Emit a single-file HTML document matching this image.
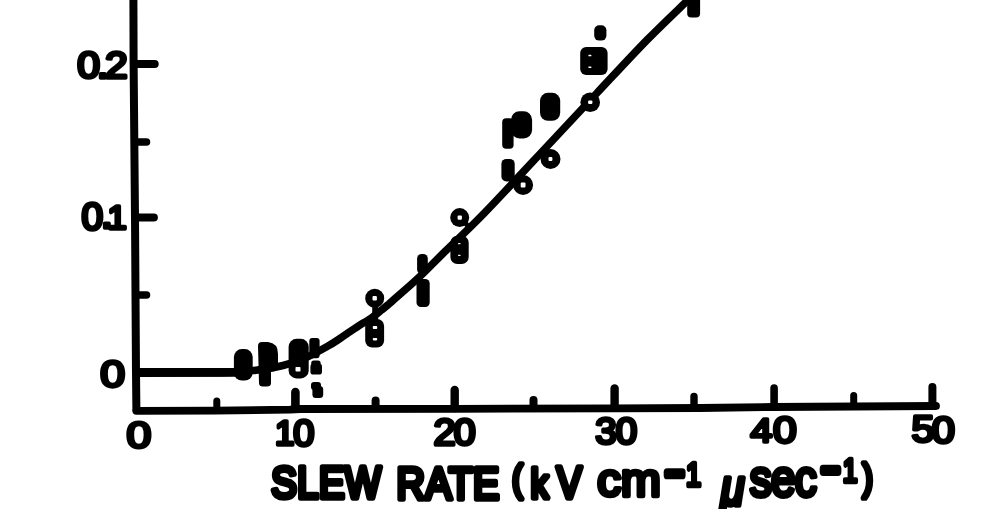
<!DOCTYPE html>
<html lang="en">
<head>
<meta charset="utf-8">
<title>Slew rate chart</title>
<style>
  html, body { margin: 0; padding: 0; background: #fff; }
  body { width: 1001px; height: 509px; overflow: hidden; }
  svg { display: block; }
  .ln { fill: none; stroke: #000; stroke-linecap: round; stroke-linejoin: round; }
  .bl { fill: #000; stroke: #000; stroke-linejoin: round; stroke-linecap: round; }
  .ho { fill: #fff; stroke: none; }
  text { font-family: "Liberation Sans", sans-serif; font-weight: normal; fill: #000; stroke: #000; stroke-linejoin: round; stroke-linecap: round; vector-effect: non-scaling-stroke; }
  tspan { vector-effect: non-scaling-stroke; }
</style>
</head>
<body>
<svg width="1001" height="509" viewBox="0 0 1001 509">
  <rect x="0" y="0" width="1001" height="509" fill="#fff"/>
  <!-- axes -->
  <g id="axes">
    <path class="ln" stroke-width="8" stroke-linecap="butt" d="M133.4 -5 L133.6 62 L135 217 L136 372 L136.4 410"/>
    <path class="ln" stroke-width="7.8" d="M136.4 410.8 L215 410.6 L290 409.7 L300 409 L455 408.8 L614 408.4 L700 408 L774 407 L936 406"/>
    <!-- y ticks -->
    <path class="ln" stroke-width="8" d="M136 64 L154.7 64"/>
    <path class="ln" stroke-width="7.5" d="M136 142 L146.5 142"/>
    <path class="ln" stroke-width="8.2" d="M136 217.5 L153.8 217.5"/>
    <path class="ln" stroke-width="7.5" d="M136 295 L146.5 295"/>
    <!-- x ticks -->
    <path class="ln" stroke-width="7" d="M216.8 401 V408"/>
    <path class="ln" stroke-width="8.6" d="M295.4 392 V408"/>
    <path class="ln" stroke-width="8" d="M375.6 400.5 V408"/>
    <path class="ln" stroke-width="8.4" d="M454.7 390 V408"/>
    <path class="ln" stroke-width="8" d="M533.5 400 V408"/>
    <path class="ln" stroke-width="8.4" d="M614.6 388.5 V407"/>
    <path class="ln" stroke-width="7.4" d="M694 396.5 V407"/>
    <path class="ln" stroke-width="7.6" d="M774.1 388 V406"/>
    <path class="ln" stroke-width="7" d="M853.7 395.5 V406"/>
    <path class="ln" stroke-width="8" d="M932.4 387 V406"/>
  </g>
  <!-- fitted curve -->
  <path class="ln" stroke-width="8.8" stroke-linecap="butt" d="M137 372.5 L236 372.4"/>
  <path class="ln" stroke-width="7.6" d="M137.5 372.6 C144.6 372.6 164.9 372.6 180 372.6 C195.1 372.6 215.3 372.9 228 372.5 C240.7 372.1 246.8 371.4 256 370.2 C265.2 369.0 274.8 367.5 283 365.5 C291.2 363.5 297.5 361.2 305 358 C312.5 354.8 322.2 349.2 328 346 C333.8 342.8 336.3 340.9 340 338.5 C343.7 336.1 347.2 333.6 350 331.7 C352.8 329.8 354.7 328.5 357 327 C359.3 325.5 362.0 323.8 364 322.6 C366.0 321.4 367.5 320.6 369 319.6 C370.5 318.6 371.0 318.3 373 316.8 C375.0 315.3 378.4 312.5 381 310.4 C383.6 308.3 386.5 306.1 388.5 304.4 C390.5 302.7 388.1 304.6 393 300.3 C397.9 296.0 409.3 286.4 418 278.3 C426.7 270.2 433.8 262.5 445 251.5 C456.2 240.5 467.0 231.0 485 212.4 C503.0 193.8 534.3 159.9 553 140 C571.7 120.1 581.3 109.7 597 93 C612.7 76.3 631.8 55.5 647 40 C662.2 24.5 679.2 8.6 688 0 C696.8 -8.6 698.0 -9.8 700 -11.7"/>
  <!-- data markers -->
  <g id="markers">
    <rect class="bl" x="233.9" y="349.1" width="18.8" height="31.4" rx="8" ry="8" stroke-width="0"/>
    <path class="bl" stroke-width="0" d="M258 346 Q258 342 262 342 L268 342 Q278 343 278 354 L278 366 Q278 371.5 272 371.5 L271 371.5 L271 383 Q271 386.6 267 386.6 L263 386.6 Q259 386.6 259 383 Z"/>
    <rect class="bl" x="288.6" y="338.8" width="20.1" height="39.6" rx="8" ry="8" stroke-width="0"/>
    <rect class="ho" x="295.5" y="367.0" width="5.0" height="4.5" rx="0.8"/>
    <rect class="bl" x="309.3" y="338.0" width="10.3" height="20.3" rx="3" ry="3" stroke-width="0"/>
    <rect class="bl" x="311.2" y="360.4" width="9.4" height="5.6" rx="2.5" ry="2.5" stroke-width="0"/>
    <rect class="bl" x="310.4" y="363.5" width="11.6" height="11.1" rx="3.2" ry="3.2" stroke-width="0"/>
    <rect class="bl" x="311.0" y="382.0" width="10.0" height="8.0" rx="3" ry="3" stroke-width="0"/>
    <rect class="bl" x="312.4" y="386.0" width="10.8" height="12.0" rx="3.5" ry="3.5" stroke-width="0"/>
    <circle class="bl" cx="374.7" cy="298.3" r="9.5" stroke-width="0"/>
    <rect class="ho" x="372.5" y="296.1" width="4.4" height="4.4" rx="1"/>
    <rect class="bl" x="372.2" y="305.0" width="6.0" height="16.0" rx="2" ry="2" stroke-width="0"/>
    <rect class="bl" x="365.2" y="319.0" width="18.9" height="28.5" rx="7" ry="7" stroke-width="0"/>
    <rect class="ho" x="372.8" y="325.9" width="4.4" height="3.1" rx="0.8"/>
    <rect class="ho" x="372.8" y="337.9" width="4.4" height="2.5" rx="0.8"/>
    <rect class="bl" x="417.1" y="254.0" width="10.7" height="20.0" rx="4.5" ry="4.5" stroke-width="0"/>
    <rect class="bl" x="416.5" y="279.0" width="13.2" height="28.1" rx="4.5" ry="4.5" stroke-width="0"/>
    <circle class="bl" cx="459.7" cy="217.6" r="9.5" stroke-width="0"/>
    <rect class="ho" x="457.6" y="215.4" width="4.3" height="4.3" rx="1"/>
    <path class="ln" stroke-width="5" d="M465 222.5 L469 227.5"/>
    <rect class="bl" x="450.4" y="235.8" width="18.3" height="28.2" rx="7" ry="7" stroke-width="0"/>
    <rect class="ho" x="458.0" y="243.0" width="2.6" height="1.2" rx="0.4"/>
    <rect class="ho" x="458.0" y="254.8" width="2.6" height="1.2" rx="0.4"/>
    <circle class="bl" cx="523.1" cy="185" r="10" stroke-width="0"/>
    <rect class="ho" x="520.7" y="182.6" width="4.8" height="4.8" rx="1"/>
    <circle class="bl" cx="550.5" cy="159" r="10" stroke-width="0"/>
    <rect class="ho" x="548.5" y="157.1" width="3.9" height="3.9" rx="1"/>
    <rect class="bl" x="501.4" y="158.9" width="13.3" height="22.6" rx="5" ry="5" stroke-width="0"/>
    <rect class="bl" x="502.2" y="118.3" width="11.4" height="30.5" rx="4" ry="4" stroke-width="0"/>
    <rect class="bl" x="511.0" y="111.2" width="21.1" height="27.3" rx="8.5" ry="8.5" stroke-width="0"/>
    <rect class="bl" x="540.0" y="92.8" width="20.2" height="28.0" rx="8" ry="8" stroke-width="0"/>
    <circle class="bl" cx="590.2" cy="102.2" r="9.8" stroke-width="0"/>
    <rect class="ho" x="588.1" y="100.5" width="4.3" height="3.4" rx="1"/>
    <rect class="bl" x="580.2" y="47.0" width="27.4" height="28.1" rx="6" ry="6" stroke-width="0"/>
    <rect class="ho" x="588.4" y="54.8" width="3.0" height="1.4" rx="0.5"/>
    <rect class="ho" x="588.4" y="66.5" width="3.0" height="1.4" rx="0.5"/>
    <rect class="bl" x="594.2" y="25.2" width="12.2" height="15.4" rx="5" ry="5" stroke-width="0"/>
    <rect class="bl" x="687.2" y="-6.0" width="12.9" height="23.6" rx="4" ry="4" stroke-width="0"/>
  </g>
  <!-- labels -->
  <g id="labels">
    <text transform="scale(1.1000 1)"><tspan x="70.13" y="77.63" font-size="37.18" stroke-width="3.6">0</tspan><tspan x="87.74" y="77.80" font-size="40.93" stroke-width="3.6">.</tspan><tspan x="95.37" y="77.90" font-size="37.13" stroke-width="3.6">2</tspan></text>
    <text transform="scale(1.0200 1)"><tspan x="79.94" y="230.42" font-size="38.16" stroke-width="3.6">0</tspan><tspan x="98.42" y="228.40" font-size="44.72" stroke-width="3.6">.</tspan><tspan x="105.31" y="229.10" font-size="34.04" stroke-width="3.6">1</tspan></text>
    <text transform="scale(1.2000 1)"><tspan x="83.60" y="386.63" font-size="37.18" stroke-width="3.6">0</tspan></text>
    <text transform="scale(1.2138 1)"><tspan x="104.15" y="447.53" font-size="36.76" stroke-width="3.6">0</tspan></text>
    <text transform="scale(1.0200 1)"><tspan x="269.68" y="445.40" font-size="34.33" stroke-width="3.6">1</tspan><tspan x="287.50" y="445.83" font-size="37.31" stroke-width="3.6">0</tspan></text>
    <text transform="scale(1.0641 1)"><tspan x="407.28" y="445.00" font-size="37.56" stroke-width="3.6">2</tspan><tspan x="426.52" y="444.63" font-size="37.03" stroke-width="3.6">0</tspan></text>
    <text transform="scale(1.0535 1)"><tspan x="565.06" y="444.33" font-size="36.61" stroke-width="3.6">3</tspan><tspan x="584.57" y="444.33" font-size="36.61" stroke-width="3.6">0</tspan></text>
    <text transform="scale(1.1504 1)"><tspan x="652.43" y="442.20" font-size="34.04" stroke-width="3.6">4</tspan><tspan x="671.88" y="443.08" font-size="37.03" stroke-width="3.6">0</tspan></text>
    <text transform="scale(1.1174 1)"><tspan x="815.63" y="442.23" font-size="37.13" stroke-width="3.6">5</tspan><tspan x="833.90" y="442.73" font-size="37.31" stroke-width="3.6">0</tspan></text>
    <text transform="scale(0.8668 1)"><tspan x="313.07" y="498.46" font-size="44.24" stroke-width="5.2" letter-spacing="0.38">SLEW</tspan></text>
    <text transform="scale(0.8745 1)"><tspan x="453.51" y="498.60" font-size="45.09" stroke-width="5.2" letter-spacing="0.19">RATE</tspan></text>
    <text transform="scale(0.8550 1)"><tspan x="599.03" y="491.22" font-size="36.30" stroke-width="5.2">(</tspan><tspan x="620.76" y="497.95" font-size="41.04" stroke-width="5.2">k</tspan><tspan x="651.07" y="497.70" font-size="43.78" stroke-width="5.2">V</tspan></text>
    <text transform="scale(1.0276 1)"><tspan x="581.23" y="496.24" font-size="46.39" stroke-width="4.6">cm</tspan></text>
    <text transform="scale(0.8000 1)"><tspan x="831.78" y="486.90" font-size="39.16" stroke-width="7.6">−</tspan><tspan x="857.57" y="485.70" font-size="34.04" stroke-width="4.2">1</tspan></text>
    <text transform="scale(0.8500 1)"><tspan x="848.03" y="504.97" font-size="50.28" stroke-width="5.2" font-style="italic">μ</tspan><tspan x="882.16" y="496.18" font-size="51.87" stroke-width="4.6" letter-spacing="-1.03">sec</tspan></text>
    <text transform="scale(0.8000 1)"><tspan x="1026.90" y="482.53" font-size="38.66" stroke-width="7.6">−</tspan><tspan x="1053.54" y="481.90" font-size="33.17" stroke-width="4.2">1</tspan><tspan x="1078.60" y="489.66" font-size="37.59" stroke-width="5.2">)</tspan></text>
  </g>
</svg>
</body>
</html>
